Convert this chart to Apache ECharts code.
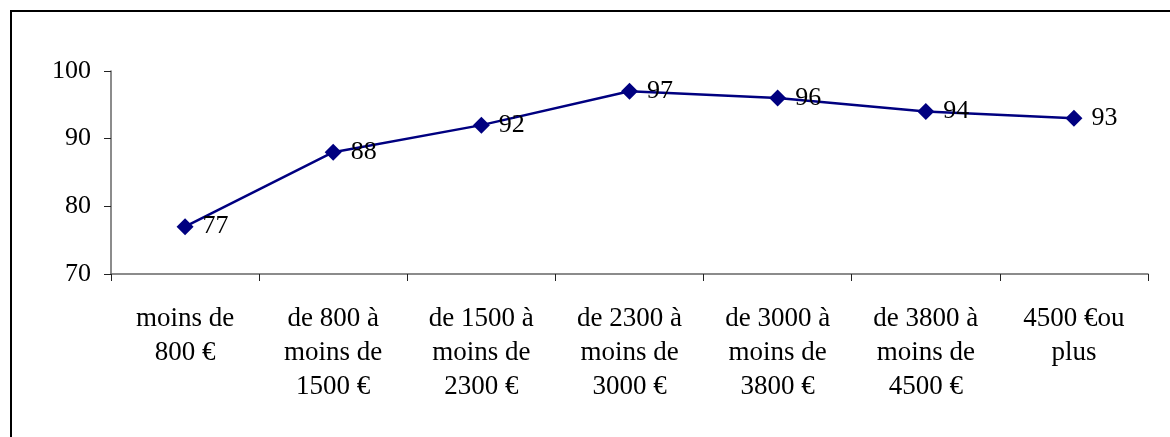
<!DOCTYPE html>
<html>
<head>
<meta charset="utf-8">
<script src="https://cdn.jsdelivr.net/npm/echarts@6/dist/echarts.min.js"></script>
<style>
html, body { margin: 0; padding: 0; background: #fff; }
#chart { width: 1170px; height: 437px; }
</style>
</head>
<body>
<div id="chart"></div>
<script>
var categories = ['moins de\n800 €', 'de 800 à\nmoins de\n1500 €', 'de 1500 à\nmoins de\n2300 €',
    'de 2300 à\nmoins de\n3000 €', 'de 3000 à\nmoins de\n3800 €', 'de 3800 à\nmoins de\n4500 €', '4500 €ou\nplus'];
var values = [77, 88, 92, 97, 96, 94, 93];
var yTicks = [70, 80, 90, 100];

var myChart = echarts.init(document.getElementById('chart'));
var option = {
    animation: false,
    textStyle: { fontFamily: 'Liberation Serif' },
    grid: { left: 111, right: 22, top: 71, bottom: 163 },
    graphic: [{
        type: 'polyline',
        shape: { points: [[11, 440], [11, 11], [1175, 11]] },
        style: { stroke: '#000', lineWidth: 2, fill: null }
    }],
    xAxis: {
        type: 'category',
        data: categories,
        boundaryGap: true,
        axisLine: { lineStyle: { color: '#666', width: 1.5 } },
        axisTick: { show: true, length: 7, alignWithLabel: false, lineStyle: { color: '#222' } },
        axisLabel: {
            color: '#000', fontSize: 27, lineHeight: 34, margin: 28,
            fontFamily: 'Liberation Serif', interval: 0
        }
    },
    yAxis: {
        type: 'value',
        min: yTicks[0],
        max: yTicks[yTicks.length - 1],
        interval: 10,
        splitLine: { show: false },
        axisLine: { show: true, lineStyle: { color: '#666', width: 1.5 } },
        axisTick: { show: true, length: 7, lineStyle: { color: '#222' } },
        axisLabel: { color: '#000', fontSize: 26, margin: 20, fontFamily: 'Liberation Serif' }
    },
    series: [{
        type: 'line',
        data: values,
        symbol: 'diamond',
        symbolSize: 17,
        lineStyle: { color: '#000080', width: 2.5 },
        itemStyle: { color: '#000080' },
        label: {
            show: true, position: 'right', distance: 9,
            color: '#000', fontSize: 26, fontFamily: 'Liberation Serif'
        }
    }]
};
myChart.setOption(option);
</script>
</body>
</html>
